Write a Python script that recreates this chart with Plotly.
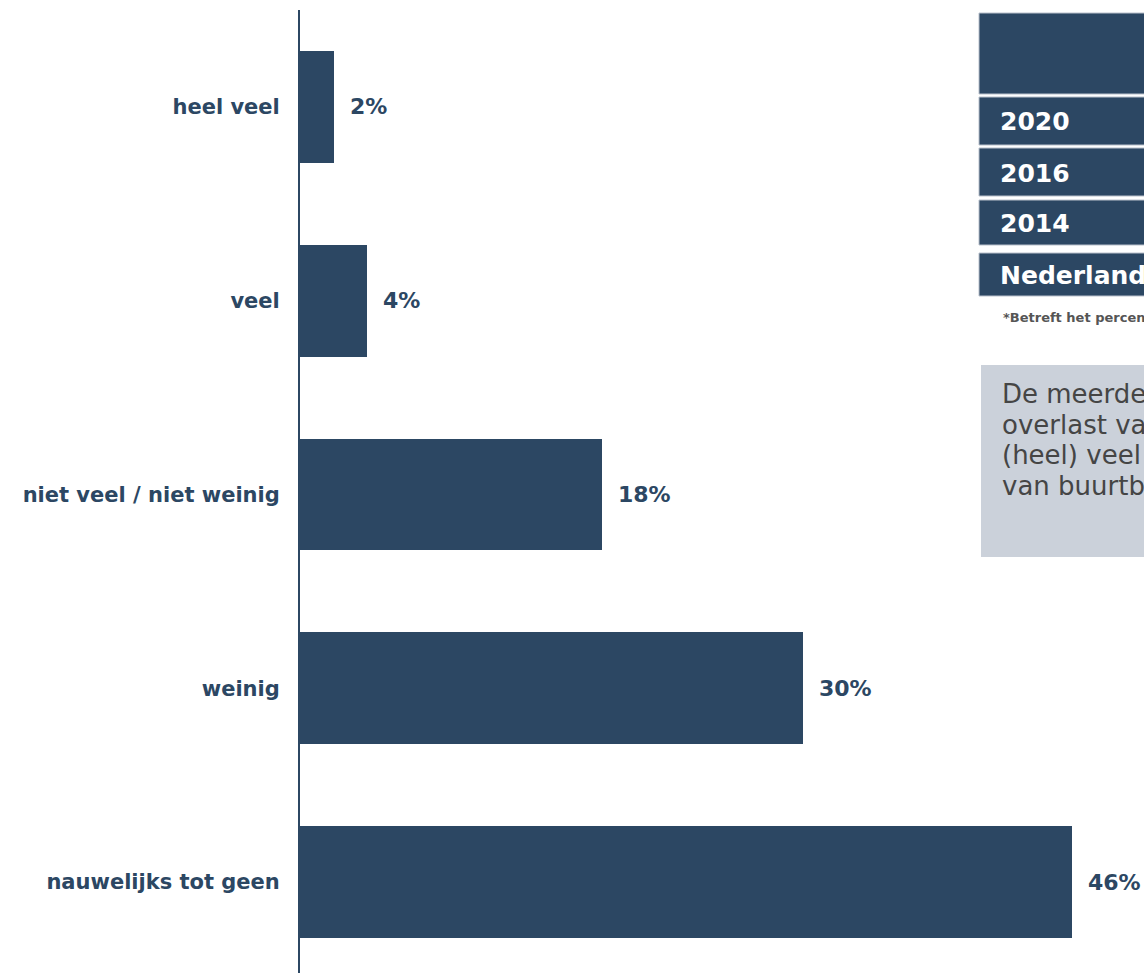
import plotly.graph_objects as go

# Survey answers: how much nuisance people experience from neighbours
categories = ["heel veel", "veel", "niet veel / niet weinig", "weinig", "nauwelijks tot geen"]
percentages = [2, 4, 18, 30, 46]

# Side table row labels and explanatory text
table_rows = ["2020", "2016", "2014", "Nederland"]
footnote = "*Betreft het percentage (heel) veel overlast"
summary_lines = [
    "De meerderheid ervaart weinig of geen",
    "overlast van buurtbewoners. 6% ervaart",
    "(heel) veel overlast",
    "van buurtbewoners.",
]

NAVY = "#2c4763"
FONT = "Verdana, DejaVu Sans, sans-serif"

W, H = 1144, 973
ML, MT = 300, 10


def fx(px):
    """Horizontal pixel position to paper coordinate."""
    return (px - ML) / (W - ML)


def fy(py):
    """Vertical pixel position to paper coordinate."""
    return (H - py) / (H - MT)


fig = go.Figure()
fig.add_trace(go.Bar(
    y=categories,
    x=percentages,
    orientation="h",
    marker=dict(color=NAVY, line=dict(width=0)),
    width=0.577,
    hoverinfo="skip",
))

annotations = []
for cat, val in zip(categories, percentages):
    annotations.append(dict(
        x=val, y=cat, xref="x", yref="y",
        text=f"{val}%", showarrow=False,
        xanchor="left", yanchor="middle", xshift=14,
        font=dict(family=FONT, size=22, color=NAVY, weight="bold"),
    ))

shapes = []
# table: header block plus one block per row
blocks = [(13, 94)] + [(97, 145), (148, 196), (200, 245), (253, 296)]
for (top, bot) in blocks:
    shapes.append(dict(
        type="rect", xref="paper", yref="paper",
        x0=fx(979), x1=fx(1400), y0=fy(bot), y1=fy(top),
        fillcolor=NAVY, line=dict(color="#b9c1cc", width=1), layer="above",
    ))
row_centres = [122, 174, 223, 275]
for label, yc in zip(table_rows, row_centres):
    annotations.append(dict(
        x=fx(998), y=fy(yc), xref="paper", yref="paper",
        text=label, showarrow=False, xanchor="left", yanchor="middle",
        font=dict(family=FONT, size=25, color="white", weight="bold"),
    ))
annotations.append(dict(
    x=fx(1001), y=fy(318), xref="paper", yref="paper",
    text=footnote, showarrow=False, xanchor="left", yanchor="middle",
    font=dict(family=FONT, size=13, color="#555555", weight="bold"),
))

# grey summary box
shapes.append(dict(
    type="rect", xref="paper", yref="paper",
    x0=fx(981), x1=fx(1400), y0=fy(557), y1=fy(365),
    fillcolor="#cbd1da", line=dict(width=0), layer="above",
))
for i, line in enumerate(summary_lines):
    annotations.append(dict(
        x=fx(1000), y=fy(394 + 30.5 * i), xref="paper", yref="paper",
        text=line, showarrow=False, xanchor="left", yanchor="middle",
        font=dict(family=FONT, size=26, color="#454545"),
    ))

fig.update_layout(
    width=W, height=H,
    margin=dict(l=ML, r=0, t=MT, b=0),
    paper_bgcolor="white", plot_bgcolor="white",
    showlegend=False,
    bargap=0,
    xaxis=dict(range=[0, 50.3], visible=False, fixedrange=True),
    yaxis=dict(
        type="category",
        categoryorder="array", categoryarray=categories,
        range=[4.469, -0.5],
        showline=True, linecolor=NAVY, linewidth=2,
        showgrid=False, zeroline=False, ticks="",
        ticklabelstandoff=14,
        tickfont=dict(family=FONT, size=21, color=NAVY, weight="bold"),
        fixedrange=True,
    ),
    shapes=shapes,
    annotations=annotations,
)

fig.write_html("out.html")
